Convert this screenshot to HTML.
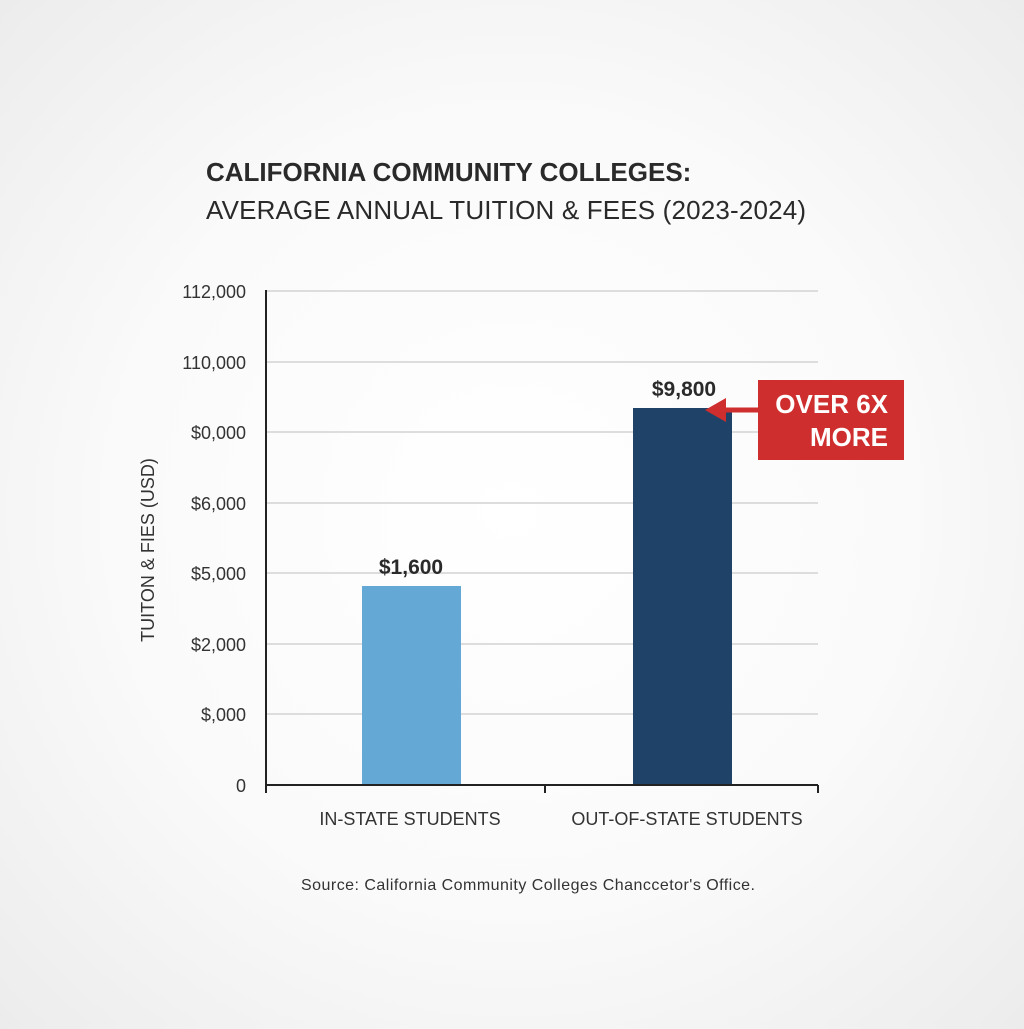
<!DOCTYPE html>
<html><head><style>
html,body{margin:0;padding:0;}
body{width:1024px;height:1024px;background:radial-gradient(ellipse at center,#ffffff 0%,#fafafa 55%,#ececec 100%);font-family:"Liberation Sans",sans-serif;}
</style></head><body>
<svg width="1024" height="1024" viewBox="0 0 1024 1024" xmlns="http://www.w3.org/2000/svg" font-family="Liberation Sans, sans-serif">
<text x="206" y="181" font-size="26" font-weight="bold" fill="#2a2a2a">CALIFORNIA COMMUNITY COLLEGES:</text>
<text x="206" y="219" font-size="26" fill="#2a2a2a" textLength="600">AVERAGE ANNUAL TUITION &amp; FEES (2023-2024)</text>
<g stroke="#dddddd" stroke-width="2">
<line x1="266" y1="291" x2="818" y2="291"/>
<line x1="266" y1="362" x2="818" y2="362"/>
<line x1="266" y1="432" x2="818" y2="432"/>
<line x1="266" y1="503" x2="818" y2="503"/>
<line x1="266" y1="573" x2="818" y2="573"/>
<line x1="266" y1="644" x2="818" y2="644"/>
<line x1="266" y1="714" x2="818" y2="714"/>
</g>
<g font-size="18" fill="#333" text-anchor="end">
<text x="246" y="298">112,000</text>
<text x="246" y="369">110,000</text>
<text x="246" y="439">$0,000</text>
<text x="246" y="510">$6,000</text>
<text x="246" y="580">$5,000</text>
<text x="246" y="651">$2,000</text>
<text x="246" y="721">$,000</text>
<text x="246" y="792">0</text>
</g>
<text transform="translate(154,550) rotate(-90)" font-size="18" fill="#333" text-anchor="middle">TUITON &amp; FIES (USD)</text>
<rect x="362" y="586" width="99" height="199" fill="#64a9d6"/>
<rect x="633" y="408" width="99" height="377" fill="#1f4368"/>
<line x1="266" y1="290" x2="266" y2="793" stroke="#222" stroke-width="2"/>
<line x1="265" y1="785" x2="818" y2="785" stroke="#222" stroke-width="2"/>
<line x1="545" y1="785" x2="545" y2="793" stroke="#222" stroke-width="2"/>
<line x1="818" y1="785" x2="818" y2="793" stroke="#222" stroke-width="2"/>
<text x="411" y="574" font-size="21" font-weight="bold" fill="#2a2a2a" text-anchor="middle">$1,600</text>
<text x="684" y="396" font-size="21" font-weight="bold" fill="#2a2a2a" text-anchor="middle">$9,800</text>
<rect x="758" y="380" width="146" height="80" fill="#cf2e2e"/>
<line x1="720" y1="410" x2="760" y2="410" stroke="#cf2e2e" stroke-width="5"/>
<polygon points="705,410 726,398 726,422" fill="#cf2e2e"/>
<text x="888" y="413" font-size="26" font-weight="bold" fill="#fff" text-anchor="end">OVER 6X</text>
<text x="888" y="446" font-size="26" font-weight="bold" fill="#fff" text-anchor="end">MORE</text>
<text x="410" y="825" font-size="18" fill="#333" text-anchor="middle">IN-STATE STUDENTS</text>
<text x="687" y="825" font-size="18" fill="#333" text-anchor="middle">OUT-OF-STATE STUDENTS</text>
<text x="301" y="890" font-size="16" fill="#333" textLength="454">Source: California Community Colleges Chanccetor's Office.</text>
</svg>
</body></html>
